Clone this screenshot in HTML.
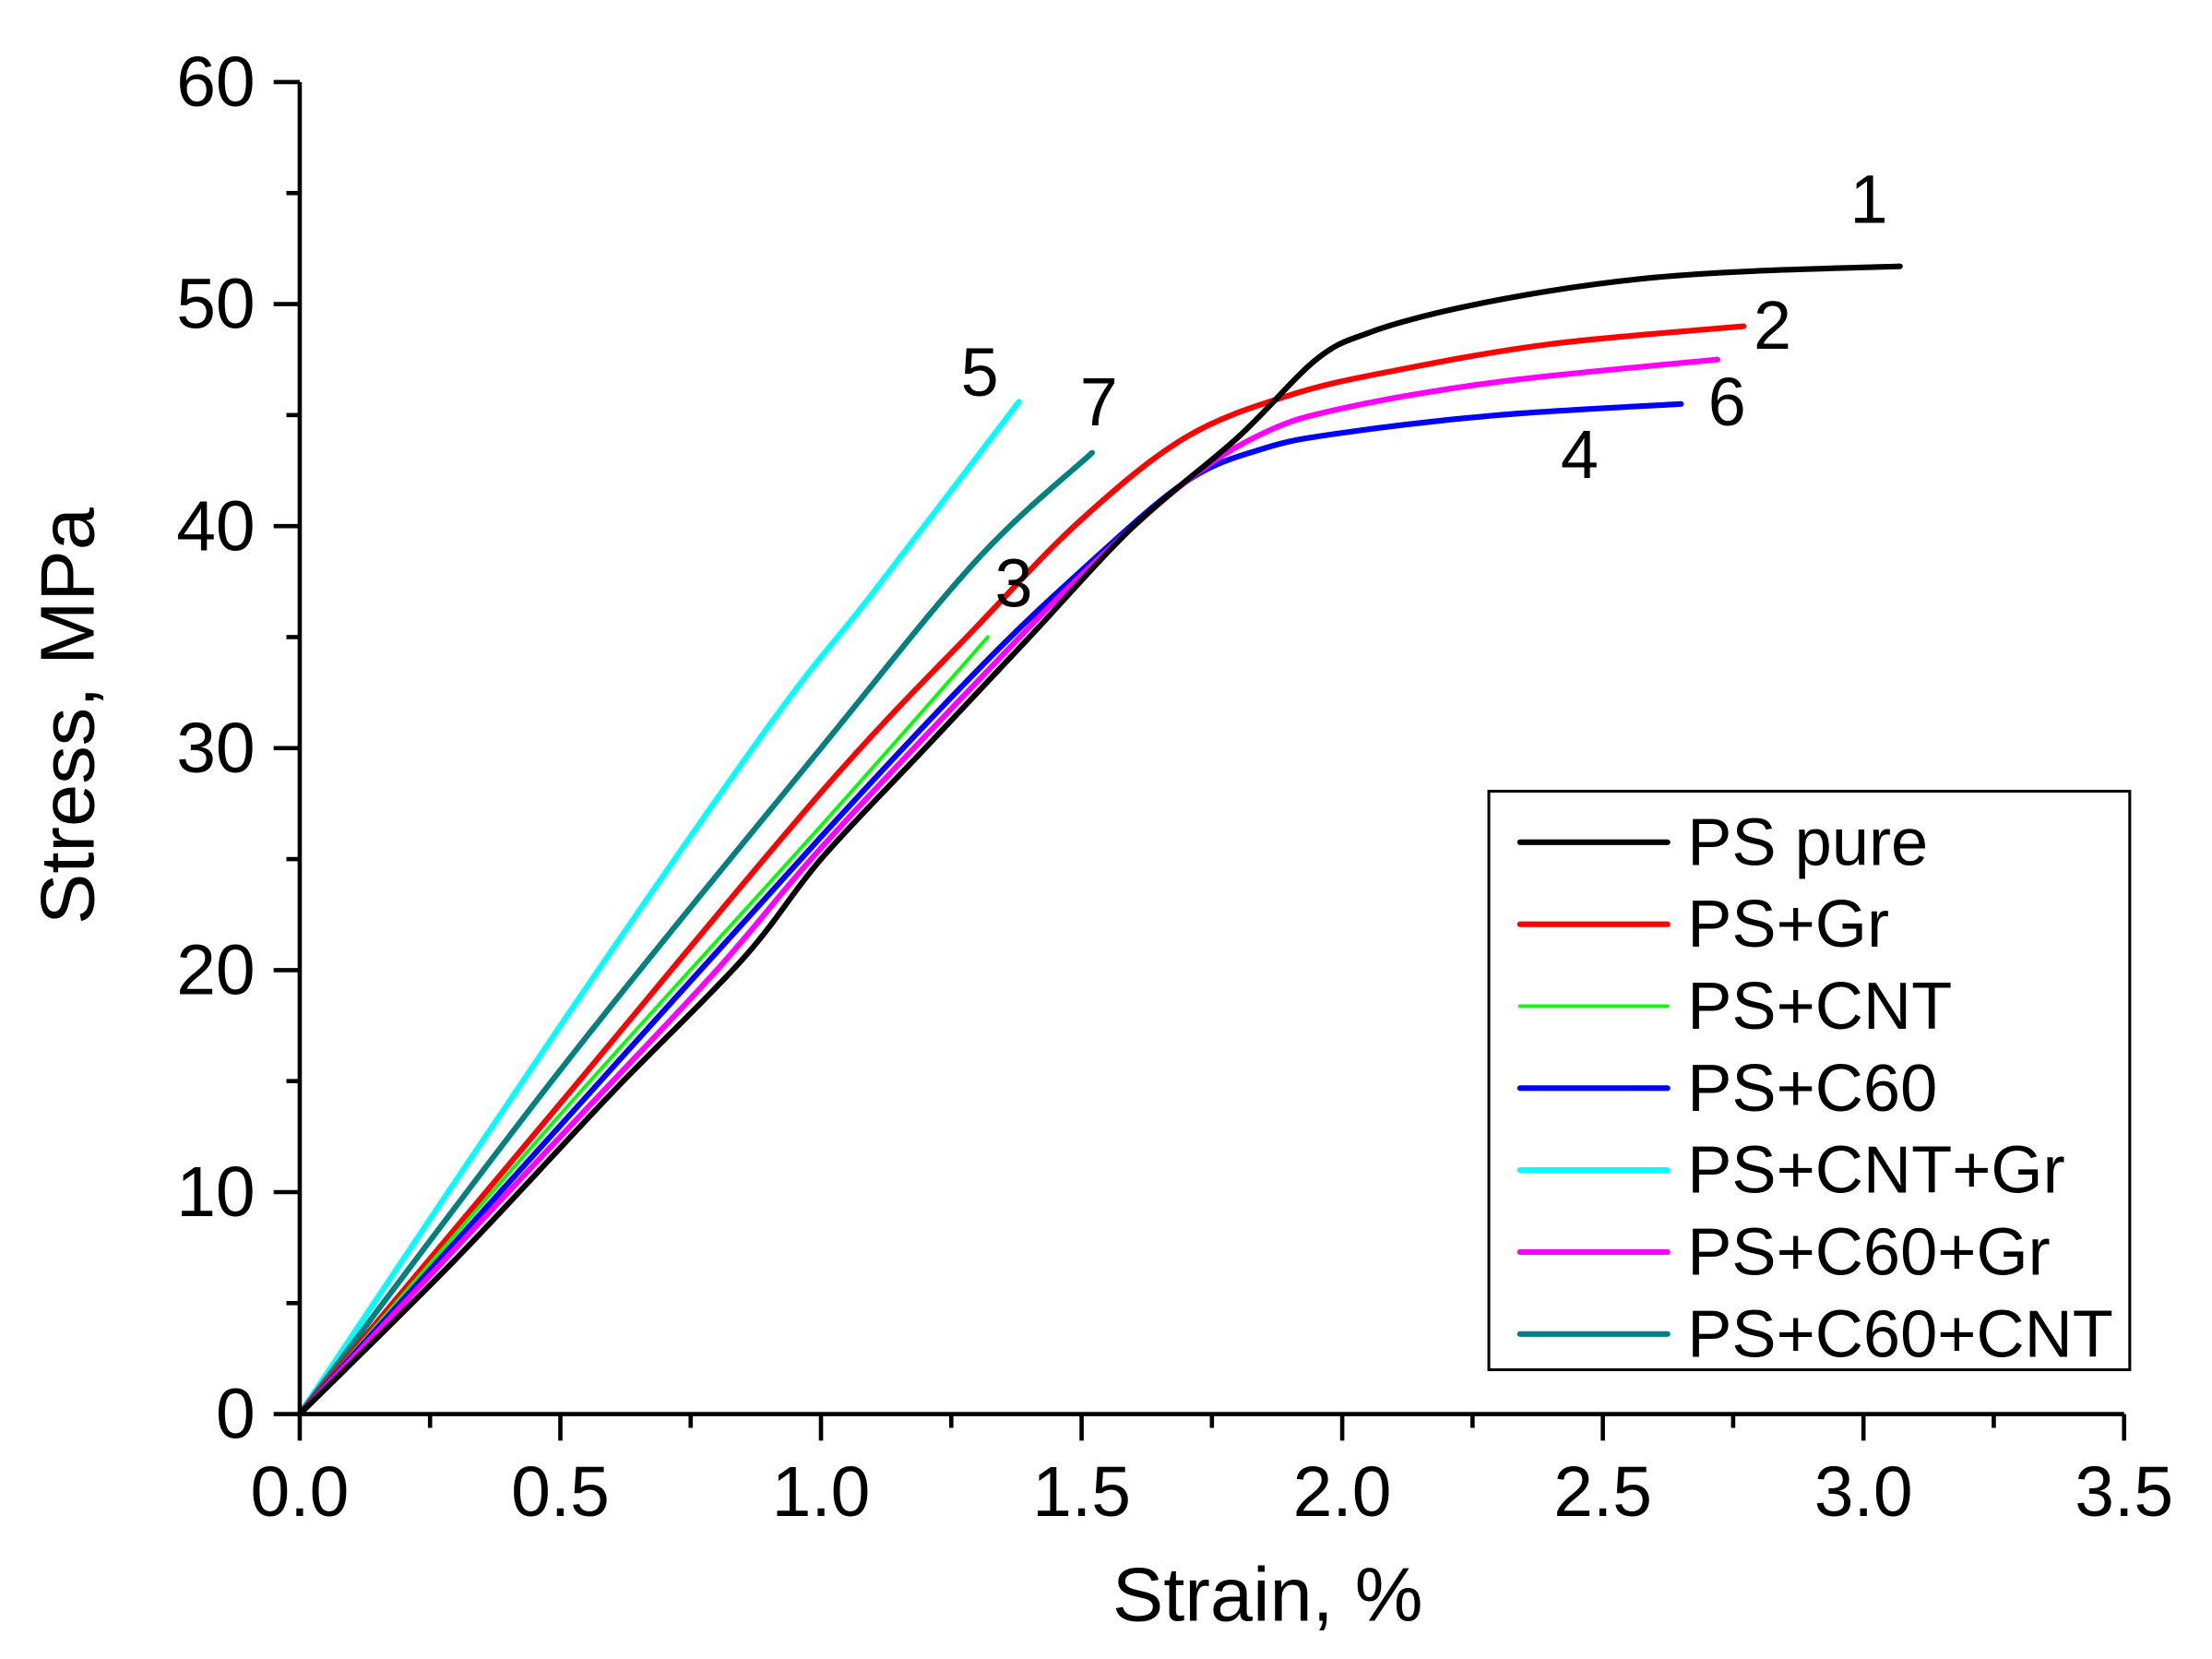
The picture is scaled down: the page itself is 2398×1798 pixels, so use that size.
<!DOCTYPE html>
<html><head><meta charset="utf-8"><style>
html,body{margin:0;padding:0;background:#fff;}
svg{display:block;}
text{font-family:"Liberation Sans",Arial,sans-serif;fill:#000;}
</style></head><body>
<svg id="s" width="2398" height="1798" viewBox="0 0 1560 1170" preserveAspectRatio="none" xmlns="http://www.w3.org/2000/svg">
<rect width="1560" height="1170" fill="#fff"/>
<g id="curves" fill="none" stroke-linejoin="round" stroke-linecap="round"></g>
<g id="axes" stroke="#000" stroke-width="3" fill="none"></g>
<g id="labels" font-size="50"></g>
<text x="894" y="1143" font-size="54" text-anchor="middle">Strain, %</text>
<text transform="translate(66,505) rotate(-90)" font-size="54" text-anchor="middle">Stress, MPa</text>
<g font-size="48" text-anchor="middle">
<text x="1318" y="157">1</text>
<text x="1250" y="246">2</text>
<text x="1218" y="300">6</text>
<text x="1114" y="337">4</text>
<text x="691" y="279">5</text>
<text x="775" y="300">7</text>
<text x="715" y="428">3</text>
</g>
<rect x="1050" y="558" width="452" height="408" fill="#fff" stroke="#000" stroke-width="2"/>
<g id="legend"></g>
</svg>
<script>
var X=function(s){return 211.4+367.6*s}, Y=function(v){return 997.3-15.657*v};
var NS="http://www.w3.org/2000/svg";
function el(p,t,a){var e=document.createElementNS(NS,t);for(var k in a)e.setAttribute(k,a[k]);p.appendChild(e);return e;}
var series=[
["#000",4,"PS pure",[[0,0],[0.3,7],[0.6,14.5],[0.85,20.5],[1.0,25],[1.2,30],[1.4,35],[1.6,40],[1.8,44],[1.95,47.5],[2.05,48.7],[2.2,49.7],[2.4,50.6],[2.6,51.2],[2.8,51.5],[3.07,51.7]]],
["#f00",4,"PS+Gr",[[0,0],[0.5,14],[1.0,28],[1.3,35.5],[1.5,40.3],[1.7,44],[1.9,45.9],[2.1,47],[2.4,48.2],[2.77,49]]],
["#0f0",2.5,"PS+CNT",[[0,0],[0.5,13.5],[1.0,26.5],[1.32,35]]],
["#00f",4,"PS+C60",[[0,0],[0.5,13],[1.0,26],[1.3,33.5],[1.5,38],[1.7,42],[1.85,43.5],[2.0,44.2],[2.3,45],[2.65,45.5]]],
["#0ff",4,"PS+CNT+Gr",[[0,0],[0.5,17.5],[0.9,31],[1.1,37],[1.38,45.6]]],
["#f0f",4,"PS+C60+Gr",[[0,0],[0.5,12.5],[0.8,20],[1.0,25.5],[1.3,33],[1.5,37.8],[1.7,42],[1.85,44.2],[2.0,45.3],[2.3,46.5],[2.72,47.5]]],
["#008080",4,"PS+C60+CNT",[[0,0],[0.5,15.5],[1.0,30],[1.3,38.5],[1.52,43.3]]]
];
var cg=document.getElementById("curves"),lg=document.getElementById("legend");
var order=[4,6,1,2,3,5,0];
order.forEach(function(i){var s=series[i];var p=s[3].map(function(q){return [X(q[0]),Y(q[1])]});
var d="M"+p[0][0]+","+p[0][1];
for(var j=0;j<p.length-1;j++){var p0=p[j-1]||p[j],p1=p[j],p2=p[j+1],p3=p[j+2]||p2;
d+=" C"+(p1[0]+(p2[0]-p0[0])/6)+","+(p1[1]+(p2[1]-p0[1])/6)+" "+(p2[0]-(p3[0]-p1[0])/6)+","+(p2[1]-(p3[1]-p1[1])/6)+" "+p2[0]+","+p2[1];}
el(cg,"path",{d:d,stroke:s[0],"stroke-width":s[1]});});
series.forEach(function(s,i){var y=594+i*57.8;
el(lg,"line",{x1:1072,x2:1176,y1:y,y2:y,stroke:s[0],"stroke-width":s[1],"stroke-linecap":"round"});
var t=el(lg,"text",{x:1190,y:y+16,"font-size":47});t.textContent=s[2];});
var ax=document.getElementById("axes"),lb=document.getElementById("labels");
el(ax,"path",{d:"M211.4,57.9 L211.4,997.3 L1498,997.3"});
for(var k=0;k<=14;k++){var x=X(k*0.25);el(ax,"line",{x1:x,x2:x,y1:997.3,y2:k%2?1007:1016});
if(k%2==0){var t=el(lb,"text",{x:x,y:1069,"text-anchor":"middle"});t.textContent=(k*0.25).toFixed(1);}}
for(var k=0;k<=12;k++){var y=Y(k*5);el(ax,"line",{x1:211.4,x2:k%2?202:193,y1:y,y2:y});
if(k%2==0){var t=el(lb,"text",{x:180,y:y+17,"text-anchor":"end"});t.textContent=k*5;}}
</script>
</body></html>
